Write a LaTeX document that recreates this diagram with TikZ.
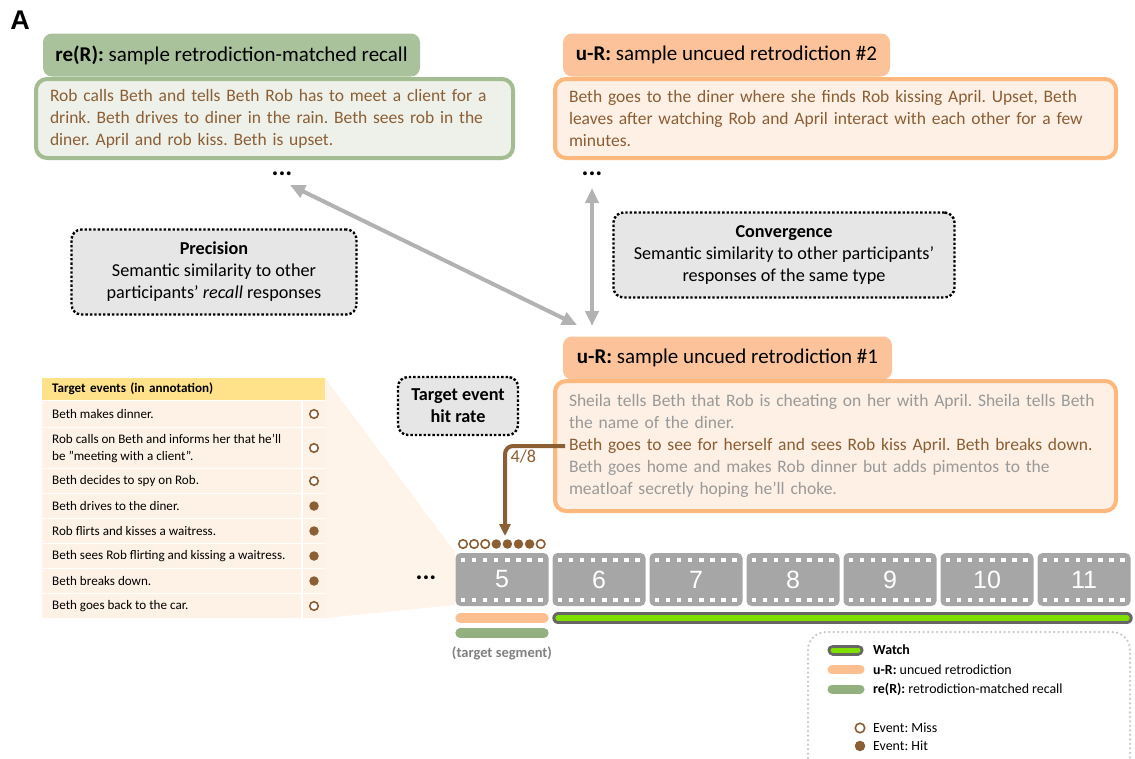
\documentclass[tikz,border=0pt]{standalone}
\usepackage{fontspec}
\setmainfont{Carlito}
\newfontfamily\numfont{Liberation Sans}
\usetikzlibrary{positioning,arrows.meta,calc}

\definecolor{tabgrn}{HTML}{A9C29B}
\definecolor{boxgrn}{HTML}{EEF1EA}
\definecolor{edgegrn}{HTML}{A3BC92}
\definecolor{bargrn}{HTML}{93B07F}
\definecolor{taborg}{HTML}{FCC39A}
\definecolor{boxorg}{HTML}{FEF0E4}
\definecolor{edgeorg}{HTML}{FDB87E}
\definecolor{barorg}{HTML}{FDBF8F}
\definecolor{txtbrown}{HTML}{8B5E34}
\definecolor{txtgray}{HTML}{999999}
\definecolor{metricgray}{HTML}{E6E6E6}
\definecolor{filmgray}{HTML}{A6A6A6}
\definecolor{watchgrn}{HTML}{7FE000}
\definecolor{watchedge}{HTML}{666666}
\definecolor{rowpeach}{HTML}{FEF1E5}
\definecolor{headyel}{HTML}{FFE28A}
\definecolor{zoompeach}{HTML}{FEF4EA}
\definecolor{arrowgray}{HTML}{B2B2B2}
\definecolor{lgdgray}{HTML}{C8C8C8}

\newcommand{\bodyfont}{\fontsize{17.5}{22}\selectfont}
\newcommand{\metricfont}{\fontsize{18.2}{22}\selectfont}
\newcommand{\tabfont}{\fontsize{21}{24}\selectfont}
\newcommand{\eventfont}{\fontsize{13.1}{17}\selectfont}
\newcommand{\lgdfont}{\fontsize{13.9}{15}\selectfont}
\frenchspacing

\begin{document}
\begin{tikzpicture}[x=1pt,y=-1pt,>=Triangle,
  headtab/.style={rounded corners=9pt, minimum height=43pt, inner xsep=0pt, font=\tabfont},
  respbox/.style={anchor=north west, rounded corners=11pt, line width=4pt, inner xsep=14pt,
    align=left, font=\bodyfont},
  metricbox/.style={draw=black, fill=metricgray, rounded corners=10pt, line width=2.4pt,
    dash pattern=on 2.4pt off 2pt, align=center, font=\metricfont},
  simarrow/.style={<->, arrowgray, line width=4pt, >={Triangle[width=13pt,length=15pt]}},
  hitarrow/.style={->, txtbrown, line width=4pt, rounded corners=8pt, >={Triangle[width=11pt,length=12pt]}},
  filmbox/.style={fill=filmgray, rounded corners=5pt, minimum width=93pt, minimum height=53pt,
    text=white, font=\numfont\fontsize{25}{25}\selectfont},
  missmark/.style={circle, draw=txtbrown, fill=white, line width=1.6pt, minimum size=8.5pt, inner sep=0pt},
  hitmark/.style={circle, fill=txtbrown, minimum size=9.5pt, inner sep=0pt},
  evtext/.style={anchor=west, align=left, inner sep=0pt, font=\eventfont},
  lgdtext/.style={anchor=west, inner sep=0pt, font=\lgdfont},
  dotsnode/.style={font=\fontsize{26}{26}\selectfont\bfseries, inner sep=1pt}]
  \useasboundingbox (0,0) rectangle (1135,758);

  % Panel letter
  \node[font=\numfont\bfseries\fontsize{27}{27}\selectfont] (panelA) at (20,20) {A};

  % Recall sample (top left)
  \node[headtab, fill=tabgrn, minimum width=377pt] (tabrecall) at (231.5,55) {\textbf{re(R):} sample retrodiction-matched recall};
  \node[respbox, draw=edgegrn, fill=boxgrn, text=txtbrown, text width=449pt, minimum height=79pt] (recallA) at (34,77)
    {Rob calls Beth and tells Beth Rob has to meet a client for a\\
     drink. Beth drives to diner in the rain. Beth sees rob in the\\
     diner. April and rob kiss. Beth is upset.};

  % Retrodiction #2 (top right)
  \node[headtab, fill=taborg, minimum width=327pt] (tabtwo) at (726.5,55) {\textbf{u-R:} sample uncued retrodiction \#2};
  \node[respbox, draw=edgeorg, fill=boxorg, text=txtbrown, text width=533pt, minimum height=79pt] (retroB) at (553,77)
    {Beth goes to the diner where she finds Rob kissing April. Upset, Beth\\
     leaves after watching Rob and April interact with each other for a few\\
     minutes.};

  \node[dotsnode] (dotsA) at (282,174) {...};
  \node[dotsnode] (dotsB) at (592,174) {...};

  % Retrodiction #1 (middle right)
  \node[headtab, fill=taborg, minimum width=329pt] (tabone) at (727.5,358) {\textbf{u-R:} sample uncued retrodiction \#1};
  \node[respbox, draw=edgeorg, fill=boxorg, text=txtgray, text width=533pt, minimum height=130pt] (retroA) at (553,379)
    {Sheila tells Beth that Rob is cheating on her with April. Sheila tells Beth\\
     the name of the diner.\\
     \textcolor{txtbrown}{Beth goes to see for herself and sees Rob kiss April. Beth breaks down.}\\
     Beth goes home and makes Rob dinner but adds pimentos to the\\
     meatloaf secretly hoping he'll choke.};

  % Similarity measures
  \coordinate (meetA) at (577,325);
  \coordinate (meetB) at (592,326);
  \coordinate (startA) at (290,185);
  \coordinate (startB) at (592,188);
  \draw[simarrow] (startA) -- (meetA);
  \draw[simarrow] (startB) -- (meetB);
  \node[metricbox, minimum width=285pt, minimum height=85pt] (precision) at (214,272)
    {\textbf{Precision}\\Semantic similarity to other\\participants' \textit{recall} responses};
  \node[metricbox, minimum width=341pt, minimum height=85pt] (convergence) at (784,255)
    {\textbf{Convergence}\\Semantic similarity to other participants'\\responses of the same type};
  \node[metricbox, minimum width=120pt, minimum height=58pt, font=\metricfont\bfseries] (hitrate) at (458,406)
    {Target event\\hit rate};

  % Zoom wedge and target event table
  \fill[zoompeach] (325,378) -- (455,552) -- (455,605) -- (325,618) -- cycle;
  \fill[rowpeach] (42,400) rectangle (325,618);
  \node[anchor=north west, fill=headyel, minimum width=283pt, minimum height=22pt, inner xsep=10pt,
        font=\eventfont\bfseries, text width=263pt] (evhead) at (42,378) {Target events (in annotation)};
  \foreach \yy in {400.5,427.5,468.5,493.5,518.5,543.5,568.5,593.5}
    \draw[white, line width=1.5pt] (42,\yy) -- (325,\yy);
  \draw[white, line width=1.5pt] (302,400) -- (302,618);
  \foreach \yy/\txt/\mk [count=\i] in {414/{Beth makes dinner.}/missmark,
      448/{Rob calls on Beth and informs her that he'll\\be "meeting with a client".}/missmark,
      481/{Beth decides to spy on Rob.}/missmark,
      506/{Beth drives to the diner.}/hitmark,
      531/{Rob flirts and kisses a waitress.}/hitmark,
      556/{Beth sees Rob flirting and kissing a waitress.}/hitmark,
      581/{Beth breaks down.}/hitmark,
      606/{Beth goes back to the car.}/missmark} {
    \node[evtext] (ev\i) at (52,\yy) {\txt};
    \node[\mk] (evmark\i) at (314,\yy) {};
  }

  % Hit rate arrow
  \coordinate (hitline) at (565,446);
  \coordinate (circtop) at (505,536);
  \draw[hitarrow] (hitline) -| (circtop);
  \node[text=txtbrown, font=\metricfont, anchor=west] (ratio) at (507,457) {4/8};

  % Event marks over segment 5
  \foreach \mk [count=\i from 0] in {missmark,missmark,missmark,hitmark,hitmark,hitmark,hitmark,missmark}
    \node[\mk] (seg\i) at (463+11.1*\i,544) {};

  % Film strip
  \node[dotsnode] (dotsC) at (426,578) {...};
  \foreach \n [count=\k from 0] in {5,...,11} {
    \node[filmbox] (film\n) at (502+97*\k,579.5) {\n};
    \foreach \h in {0,...,7} {
      \fill[white] ($(film\n.north west)+(5.3+\h*11.1,5)$) rectangle +(4.5,4.5);
      \fill[white] ($(film\n.south west)+(5.3+\h*11.1,-8.5)$) rectangle +(4.5,4.5);
    }
  }

  % Condition bars
  \draw[barorg, line width=10pt, line cap=round] ($(film5.south west)+(5,12)$) -- ($(film5.south east)+(-5,12)$);
  \draw[bargrn, line width=10pt, line cap=round] ($(film5.south west)+(5,27)$) -- ($(film5.south east)+(-5,27)$);
  \draw[watchedge, line width=12pt, line cap=round] ($(film6.south west)+(6,12)$) -- ($(film11.south east)+(-4,12)$);
  \draw[watchgrn, line width=6pt, line cap=round] ($(film6.south west)+(6,12)$) -- ($(film11.south east)+(-4,12)$);
  \node[text=gray, font=\fontsize{14.5}{16}\selectfont\bfseries] (segtarget) at (502,653) {(target segment)};

  % Legend
  \draw[lgdgray, line width=2.5pt, line cap=round, dash pattern=on 0pt off 4.5pt, rounded corners=18pt]
    (808,632) rectangle (1130,780);
  \draw[watchedge, line width=11pt, line cap=round] (833,650) -- (858,650);
  \draw[watchgrn, line width=5pt, line cap=round] (833,650) -- (858,650);
  \draw[barorg, line width=9pt, line cap=round] (832,669.5) -- (860,669.5);
  \draw[bargrn, line width=9pt, line cap=round] (832,689) -- (860,689);
  \node[lgdtext] (lgwatch) at (873,650) {\textbf{Watch}};
  \node[lgdtext] (lgretro) at (873,669.5) {\textbf{u-R:} uncued retrodiction};
  \node[lgdtext] (lgrecall) at (873,689) {\textbf{re(R):} retrodiction-matched recall};
  \node[missmark, minimum size=9.5pt] (lgmissmark) at (860,728) {};
  \node[hitmark, minimum size=10.5pt] (lghitmark) at (860,746) {};
  \node[lgdtext] (lgmiss) at (873,728) {Event: Miss};
  \node[lgdtext] (lghit) at (873,746) {Event: Hit};
\end{tikzpicture}
\end{document}
